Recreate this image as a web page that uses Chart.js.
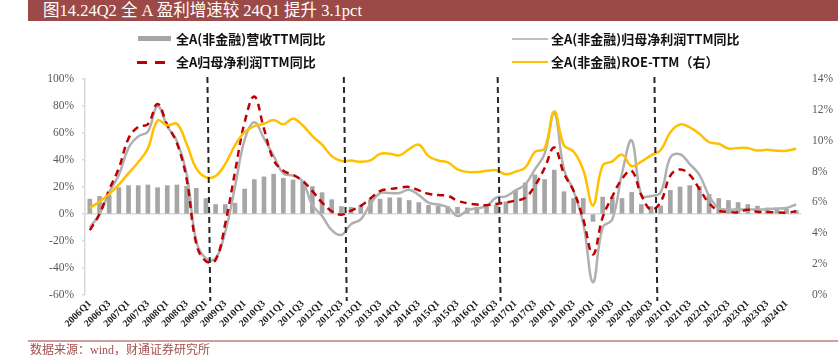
<!DOCTYPE html>
<html>
<head>
<meta charset="utf-8">
<script src="https://cdn.jsdelivr.net/npm/chart.js@4.4.1/dist/chart.umd.min.js"></script>
<style>
  body { margin: 0; background: #fff; overflow: hidden; }
  #wrap { position: relative; width: 838px; height: 359px; }
  #profitChart { position: absolute; left: 0; top: 0; }
  .title { position: absolute; left: 28px; top: 0; width: 810px; height: 21px; background: #9c4a47; color: #fff;
           font: 16.5px "Liberation Serif", "Noto Sans CJK SC", serif; line-height: 21px; padding-left: 15px; box-sizing: border-box; white-space: nowrap; }
  .lg { position: absolute; font: bold 13px "Noto Sans CJK SC", sans-serif; color: #111; white-space: nowrap; line-height: 16px; }
  .sw { position: absolute; }
  .srcline { position: absolute; left: 28px; top: 340px; width: 810px; height: 1.5px; background: #cf9e9c; }
  .src { position: absolute; left: 30px; top: 342px; font: 12px "Liberation Serif", "Noto Sans CJK SC", serif; color: #a0524f; white-space: nowrap; line-height: 16px; }
</style>
</head>
<body>
<div id="wrap">
  <canvas id="profitChart" width="838" height="359"></canvas>
  <div class="title">图14.24Q2 全 A 盈利增速较 24Q1 提升 3.1pct</div>

  <div class="sw" style="left:138px;top:36px;width:33px;height:5px;background:#a6a6a6"></div>
  <div class="lg" style="left:176px;top:31px">全A(非金融)营收TTM同比</div>
  <div class="sw" style="left:137px;top:61px;width:10px;height:2.5px;background:#c00000"></div>
  <div class="sw" style="left:155px;top:61px;width:10px;height:2.5px;background:#c00000"></div>
  <div class="lg" style="left:176px;top:54px">全A归母净利润TTM同比</div>

  <div class="sw" style="left:512px;top:38px;width:36px;height:2px;background:#bfbfbf"></div>
  <div class="lg" style="left:551px;top:31px">全A(非金融)归母净利润TTM同比</div>
  <div class="sw" style="left:512px;top:61px;width:36px;height:2px;background:#ffc000"></div>
  <div class="lg" style="left:551px;top:54px">全A(非金融)ROE-TTM（右）</div>

  <div class="srcline"></div>
  <div class="src">数据来源：wind，财通证券研究所</div>
</div>

<script>
// quarters 2006Q1 .. 2024Q2
const quarters = [
  "2006Q1","2006Q2","2006Q3","2006Q4","2007Q1","2007Q2","2007Q3","2007Q4",
  "2008Q1","2008Q2","2008Q3","2008Q4","2009Q1","2009Q2","2009Q3","2009Q4",
  "2010Q1","2010Q2","2010Q3","2010Q4","2011Q1","2011Q2","2011Q3","2011Q4",
  "2012Q1","2012Q2","2012Q3","2012Q4","2013Q1","2013Q2","2013Q3","2013Q4",
  "2014Q1","2014Q2","2014Q3","2014Q4","2015Q1","2015Q2","2015Q3","2015Q4",
  "2016Q1","2016Q2","2016Q3","2016Q4","2017Q1","2017Q2","2017Q3","2017Q4",
  "2018Q1","2018Q2","2018Q3","2018Q4","2019Q1","2019Q2","2019Q3","2019Q4",
  "2020Q1","2020Q2","2020Q3","2020Q4","2021Q1","2021Q2","2021Q3","2021Q4",
  "2022Q1","2022Q2","2022Q3","2022Q4","2023Q1","2023Q2","2023Q3","2023Q4",
  "2024Q1","2024Q2"
];

// 全A(非金融)营收TTM同比 (%)
const revenueYoy = [
  11, 13, 14, 19.5, 21, 21, 21.5, 19.5,
  21, 21.5, 20.5, 19, 11.5, 7, 7, 8,
  18.5, 25.5, 27.5, 29.5, 26.5, 25.2, 24.5, 20.3,
  15.8, 10.6, 5.5, 5, 6.5, 10.5, 11, 12,
  12, 10, 8.5, 6.5, 6, 5.5, 5, 4.5,
  5, 5, 6.5, 9, 17.5, 23, 29, 25.5,
  32.5, 16.5, 11.5, 11.5, -5.5, 12.5, 12.5, 11.5,
  16, 7, 5.5, 6, 17.5, 20, 21, 20.5,
  14.5, 11.5, 10, 8.5, 7, 5.8, 4.5, 4,
  3.5, 2.5
];

// 全A(非金融)归母净利润TTM同比 (%)
const nonFinProfitYoy = [
  -10, 0, 16, 29, 49, 57.5, 61, 80,
  65, 54, 30, -20, -33, -33, -13, 20,
  55, 68, 56, 43, 30, 28.5, 24, 6.5,
  -1.5, -12, -15.5, -7.5, -4, 7.5, 15.5, 15.5,
  15.5, 18, 14, 8.5, 7, 5, -1.5, 2.5,
  4.3, 5.8, 12.2, 13, 17.5, 22, 33, 44.5,
  75, 33, 17, -7, -50.5, -10, -4, 30,
  54.5, 14, 13.3, 16, 42, 44.3, 37, 29,
  13.5, 4.2, 3.3, 3.3, 3.3, 3.3, 3.5, 4,
  4.5, 7
];

// 全A归母净利润TTM同比 (%)
const allProfitYoy = [
  -12, 0, 18, 34, 56, 64.5, 66.5, 81.5,
  66, 52.5, 26, -22, -35, -34, -7, 31,
  68, 87, 63, 40, 32, 29, 24.5, 17,
  8.5, 2, -0.5, 2.5, 6, 11.5, 17, 18.5,
  19.5, 20, 17.5, 15, 14, 13.5, 9.8, 8,
  7, 6.5, 7.5, 8.5, 10, 12, 21, 34,
  49.3, 30, 17, -4, -30, -2.5, 13, 26,
  32, 14, 3.2, 9, 28.5, 33, 29, 18.5,
  8, 2.5, 1.6, 1.3, 3.2, 1.6, 1.5, 1.2,
  1, 2
];

// 全A(非金融)ROE-TTM (%, right axis)
const roeTtm = [
  5.65, 6.05, 6.55, 7.15, 7.9, 8.6, 9.5, 11.3,
  11.0, 11.1, 9.8, 8.2, 7.63, 7.71, 8.5, 9.7,
  10.55, 10.95, 11.1, 11.35, 11.06, 11.43, 11.0, 10.3,
  9.75, 9.0, 8.68, 8.72, 8.63, 8.72, 9.15, 9.16,
  9.05, 9.45, 9.74, 9.0, 8.72, 8.6, 8.15, 7.98,
  7.97, 8.05, 8.08, 7.82, 8.0, 8.25, 9.27, 9.5,
  11.9, 9.7, 9.3, 8.1, 5.8, 8.4, 8.66, 9.1,
  8.35, 8.65, 9.05, 9.4, 10.55, 11.05, 10.87, 10.45,
  9.9, 9.8, 9.5, 9.53, 9.52, 9.36, 9.42, 9.35,
  9.35, 9.48
];

// cycle turning points (position in quarter index)
const cyclePoints = [12.3, 26.4, 42.3, 58.5];

const cycleLines = {
  id: 'cycleLines',
  afterDatasetsDraw(chart) {
    const { ctx, chartArea, scales: { x } } = chart;
    ctx.save();
    ctx.strokeStyle = '#262626';
    ctx.lineWidth = 2;
    ctx.setLineDash([6, 4]);
    cyclePoints.forEach(p => {
      ctx.beginPath();
      ctx.moveTo(x.getPixelForValue(p - 0.15), chartArea.top - 2);
      ctx.lineTo(x.getPixelForValue(p + 0.15), chartArea.bottom + 6);
      ctx.stroke();
    });
    ctx.restore();
  }
};

const axisFont = { family: 'Liberation Serif', size: 11.5 };

const ctx = document.getElementById('profitChart').getContext('2d');
new Chart(ctx, {
  type: 'bar',
  data: {
    labels: quarters,
    datasets: [
      {
        type: 'bar', label: '全A(非金融)营收TTM同比', data: revenueYoy,
        backgroundColor: '#a6a6a6', barThickness: 4, yAxisID: 'y', order: 4
      },
      {
        type: 'line', label: '全A(非金融)归母净利润TTM同比', data: nonFinProfitYoy,
        borderColor: '#b0b0b0', borderWidth: 2.5, pointRadius: 0, tension: 0.4, yAxisID: 'y', order: 3
      },
      {
        type: 'line', label: '全A归母净利润TTM同比', data: allProfitYoy,
        borderColor: '#c00000', borderWidth: 2.5, borderDash: [7, 5], pointRadius: 0, tension: 0.4, yAxisID: 'y', order: 2
      },
      {
        type: 'line', label: '全A(非金融)ROE-TTM（右）', data: roeTtm,
        borderColor: '#ffc000', borderWidth: 2.5, pointRadius: 0, tension: 0.4, yAxisID: 'y1', order: 1
      }
    ]
  },
  options: {
    responsive: false,
    animation: false,
    layout: { padding: { top: 79, left: 0, right: 0, bottom: 0 } },
    plugins: { legend: { display: false }, tooltip: { enabled: false } },
    scales: {
      x: {
        ticks: {
          autoSkip: false, maxRotation: 45, minRotation: 45, padding: 3,
          callback: (v, i) => (i % 2 === 0 ? quarters[i] : ''),
          font: { family: 'Liberation Serif', size: 10, weight: 'bold' }, color: '#1a1a1a'
        },
        grid: { display: false, drawTicks: false },
        border: { display: false },
        afterFit: s => { s.height = 64; }
      },
      y: {
        position: 'left', min: -60, max: 100,
        ticks: { stepSize: 20, callback: v => v + '%', font: axisFont, color: '#595959', padding: 8 },
        grid: {
          color: c => (c.tick && c.tick.value === 0 ? '#d9d9d9' : 'rgba(0,0,0,0)'),
          lineWidth: 1.5, tickColor: '#d9d9d9', tickLength: 3
        },
        border: { display: true, color: '#d9d9d9', width: 1.5 },
        afterFit: s => { s.width = 85; }
      },
      y1: {
        position: 'right', min: 0, max: 14,
        ticks: { stepSize: 2, callback: v => v + '%', font: axisFont, color: '#595959', padding: 11 },
        grid: { display: false, drawTicks: false },
        border: { display: false },
        afterFit: s => { s.width = 37; }
      }
    }
  },
  plugins: [cycleLines]
});
</script>
</body>
</html>
